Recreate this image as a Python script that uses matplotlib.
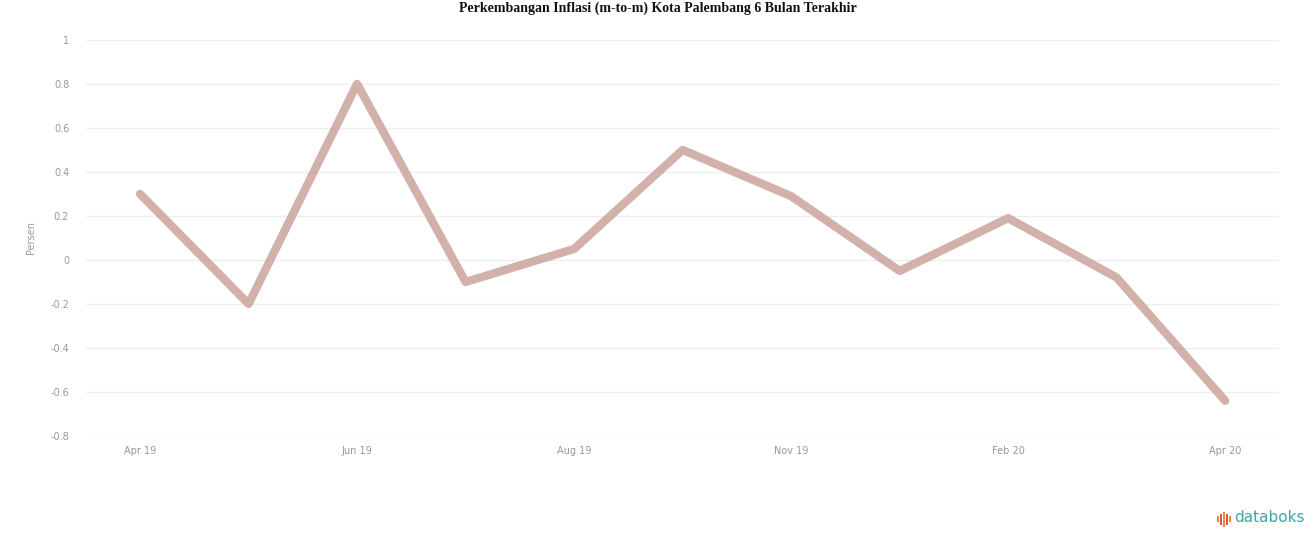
import numpy as np
import matplotlib.pyplot as plt
from matplotlib.patches import Rectangle

# data (persen, m-to-m)
bulan = ["Apr 19", "", "Jun 19", "", "Aug 19", "", "Nov 19", "", "Feb 20", "", "Apr 20"]
inflasi = [0.30, -0.20, 0.80, -0.10, 0.05, 0.50, 0.29, -0.05, 0.19, -0.08, -0.64]
yticks = [1, 0.8, 0.6, 0.4, 0.2, 0, -0.2, -0.4, -0.6, -0.8]

fig = plt.figure(figsize=(13.16, 5.47), dpi=100)
ax = fig.add_axes([0.0652, 0.203, 0.907, 0.724])

x = np.arange(len(inflasi))
ax.plot(x, inflasi, color="#caa49b", lw=6, alpha=0.85, solid_capstyle="round",
        solid_joinstyle="round")

ax.set_xlim(-0.5, len(inflasi) - 0.5)
ax.set_ylim(-0.8, 1)
ax.set_yticks(yticks)
ax.set_yticklabels([("%g" % v) for v in yticks], fontsize=7, color="#999999")
ax.set_xticks(x)
ax.set_xticklabels(bulan, fontsize=7, color="#999999")
ax.tick_params(axis="y", length=0, pad=12)
ax.tick_params(axis="x", length=0, pad=7)
ax.grid(axis="y", color="#eeeeee", lw=1)
for s in ax.spines.values():
    s.set_visible(False)
ax.set_ylabel("Persen", fontsize=7, color="#999999", labelpad=10)

fig.text(0.5, 0.998, "Perkembangan Inflasi (m-to-m) Kota Palembang 6 Bulan Terakhir",
         ha="center", va="top", fontsize=10, fontweight="bold",
         family="Liberation Serif", color="#111111")

# databoks logo
bars = [(1217, 6, "#f08a3c"), (1220, 11, "#e8553c"), (1223, 15, "#f08a3c"),
        (1226, 11, "#e8553c"), (1229, 6, "#f08a3c")]
for bx, bh, bc in bars:
    fig.add_artist(Rectangle((bx / 1316, (547 - 519 - bh / 2) / 547), 1.8 / 1316, bh / 547,
                             transform=fig.transFigure, color=bc, lw=0))
fig.text(1234 / 1316, 1 - 518 / 547, "databoks", ha="left", va="center",
         fontsize=11, color="#3fa6a6", family="DejaVu Sans")

fig.savefig("out.png", dpi=100)
